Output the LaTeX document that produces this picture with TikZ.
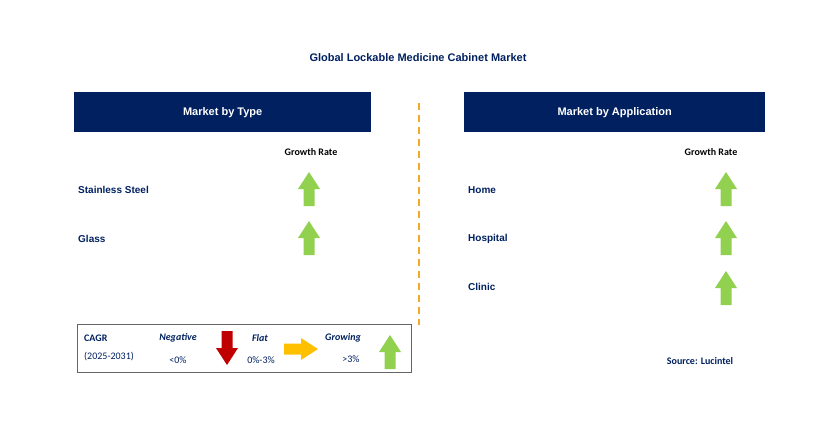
\documentclass[tikz,border=0pt]{standalone}
\usepackage{fontspec}
\setmainfont{Liberation Sans}
\newfontfamily\calfont{Carlito}
\definecolor{navy}{RGB}{0,32,96}
\definecolor{grn}{RGB}{146,208,80}
\definecolor{rd}{RGB}{192,0,0}
\definecolor{yel}{RGB}{255,192,0}
\definecolor{dashc}{RGB}{240,170,40}
\tikzset{
 hdr/.style={fill=navy,text=white,font=\bfseries\fontsize{11}{13}\selectfont,minimum height=40,inner sep=0,anchor=north west},
 lab/.style={text=navy,font=\bfseries\fontsize{10}{12}\selectfont,anchor=west,inner sep=0},
 gr/.style={text=black,font=\bfseries\calfont\fontsize{10}{12}\selectfont,inner sep=0},
 lg/.style={text=navy,font=\calfont\fontsize{10}{12}\selectfont,inner sep=0},
 lgi/.style={text=navy,font=\bfseries\itshape\calfont\fontsize{10}{12}\selectfont,inner sep=0},
}
\newcommand\uparr[3]{\fill[#3] (#1-5.5,#2+17)--(#1-5.5,#2)--(#1-11,#2)--(#1,#2-17)--(#1+11,#2)--(#1+5.5,#2)--(#1+5.5,#2+17)--cycle;}
\newcommand\dnarr[3]{\fill[#3] (#1-5.5,#2-17)--(#1-5.5,#2)--(#1-11,#2)--(#1,#2+17)--(#1+11,#2)--(#1+5.5,#2)--(#1+5.5,#2-17)--cycle;}
\newcommand\rtarr[3]{\fill[#3] (#1-17,#2-5.5)--(#1,#2-5.5)--(#1,#2-11)--(#1+17,#2)--(#1,#2+11)--(#1,#2+5.5)--(#1-17,#2+5.5)--cycle;}
\begin{document}
\begin{tikzpicture}[x=1pt,y=-1pt]
\useasboundingbox (0,0) rectangle (829,425);
\node[text=navy,font=\bfseries\fontsize{11}{13}\selectfont] (title) at (418,58) {Global Lockable Medicine Cabinet Market};
\node[hdr,minimum width=297] (h1) at (74,92) {Market by Type};
\node[hdr,minimum width=301] (h2) at (464,92) {Market by Application};
\draw[dashc,line width=1.2,dash pattern=on 7 off 5] (419,103)--(419,325);
\node[gr] (g1) at (311,152) {Growth Rate};
\node[gr] (g2) at (711,152) {Growth Rate};
\node[lab] (a1) at (78,190) {Stainless Steel};
\node[lab] (a2) at (78,239) {Glass};
\node[lab] (b1) at (468,190) {Home};
\node[lab] (b2) at (468,239) {Hospital};
\node[lab] (b3) at (468,287) {Clinic};
\uparr{309}{189}{grn}
\uparr{309}{238}{grn}
\uparr{726}{189}{grn}
\uparr{726}{238}{grn}
\uparr{726}{288}{grn}
\draw[gray!80!black,line width=1] (77,324) rectangle (411,372);
\node[lg,font=\bfseries\calfont\fontsize{10}{12}\selectfont,anchor=west] (c1) at (84,338) {CAGR};
\node[lg,anchor=west] (c2) at (84,357) {(2025-2031)};
\node[lgi] (n1) at (178,338) {Negative};
\node[lg] (n2) at (178,360) {<0\%};
\node[lgi] (f1) at (260,338) {Flat};
\node[lg] (f2) at (261,360) {0\%-3\%};
\node[lgi] (r1) at (343,338) {Growing};
\node[lg] (r2) at (351,359) {>3\%};
\dnarr{227}{348}{rd}
\rtarr{301}{349}{yel}
\uparr{390}{352}{grn}
\node[text=navy,font=\bfseries\calfont\fontsize{10}{12}\selectfont] (src) at (700,361) {Source: Lucintel};
\end{tikzpicture}
\end{document}
